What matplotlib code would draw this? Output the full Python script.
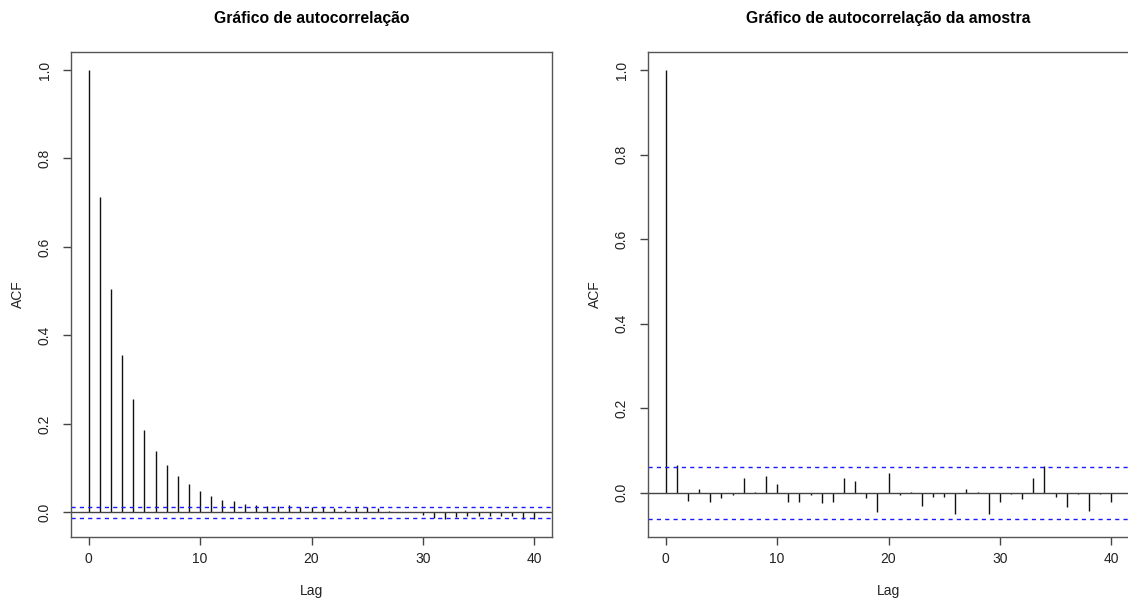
import numpy as np
import matplotlib
matplotlib.use("Agg")
import matplotlib.pyplot as plt

plt.rcParams['font.family'] = ['Liberation Sans', 'DejaVu Sans']
plt.rcParams['lines.scale_dashes'] = False

# lags 0..40
lags = np.arange(0, 41)

# ACF do processo (esquerda)
acf_teorica = [1.0, 0.714, 0.504, 0.355, 0.2555, 0.186, 0.139, 0.107, 0.083, 0.065,
               0.049, 0.037, 0.029, 0.025, 0.0195, 0.0165, 0.014, 0.014, 0.0165, 0.012,
               0.012, 0.012, 0.009, 0.006, 0.010, 0.012, 0.010, 0.004, 0.001, 0.002,
               -0.005, -0.0128, -0.015, -0.0105, -0.009, -0.009, -0.0075, -0.009, -0.009, -0.015,
               -0.015]
ic_teorica = 0.0125

# ACF da amostra (direita)
acf_amostra = [1.0, 0.065, -0.019, 0.010, -0.021, -0.013, -0.006, 0.036, 0.002, 0.039,
               0.021, -0.021, -0.021, -0.005, -0.023, -0.021, 0.036, 0.027, -0.013, -0.045,
               0.046, -0.005, 0.001, -0.031, -0.011, -0.009, -0.050, 0.010, 0.002, -0.049,
               -0.021, -0.003, -0.015, 0.036, 0.063, -0.009, -0.033, -0.003, -0.043, -0.003,
               -0.021]
ic_amostra = 0.062

titulos = ["Gráfico de autocorrelação", "Gráfico de autocorrelação da amostra"]

W, H = 1128, 600
fig = plt.figure(figsize=(W / 100, H / 100), dpi=100)

def painel(left, acf, ic, titulo):
    ax = fig.add_axes([left / W, (H - 537) / H, 481 / W, 485 / H])
    lo = min(min(acf), -ic)
    hi = max(acf)
    pad = 0.04 * (hi - lo)
    ax.set_ylim(lo - pad, hi + pad)
    ax.set_xlim(-1.6, 41.6)
    ax.vlines(lags, 0, acf, color='#111111', lw=1.0)
    ax.axhline(0, color='#444444', lw=1.0)
    for v in (ic, -ic):
        ax.axhline(v, color='#1a1aff', lw=1.0, dashes=(3, 3))
    for s in ax.spines.values():
        s.set_color('#555555')
        s.set_linewidth(1.0)
    ax.set_xticks([0, 10, 20, 30, 40])
    ax.set_yticks([0.0, 0.2, 0.4, 0.6, 0.8, 1.0])
    ax.set_yticklabels(['0.0', '0.2', '0.4', '0.6', '0.8', '1.0'], rotation=90, va='center')
    ax.tick_params(length=6, width=1.0, color='#444444', labelsize=10, labelcolor='#222222')
    ax.tick_params(axis='x', pad=5)
    ax.tick_params(axis='y', pad=8)
    ax.set_xlabel('Lag', fontsize=10, labelpad=13, color='#222222')
    ax.set_ylabel('ACF', fontsize=10, labelpad=9, color='#222222')
    ax.set_title(titulo, fontsize=11.3, fontweight='bold', pad=21)
    return ax

painel(71, acf_teorica, ic_teorica, titulos[0])
painel(648, acf_amostra, ic_amostra, titulos[1])

fig.savefig('out.png', dpi=100)
